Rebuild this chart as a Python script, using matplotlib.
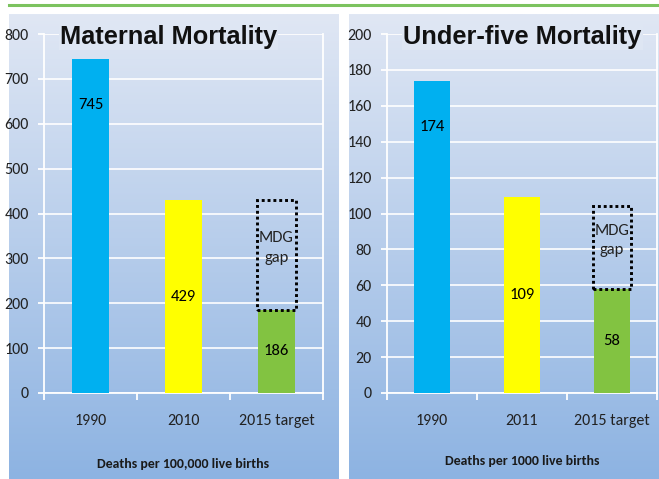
import matplotlib
matplotlib.use("Agg")
import matplotlib.pyplot as plt
import numpy as np
from matplotlib.lines import Line2D
from matplotlib.patches import Rectangle

# ---------------- data ----------------
mat_title = "Maternal Mortality"
mat_cats = ["1990", "2010", "2015 target"]
mat_vals = [745, 429, 186]
mat_gap_top = 429
mat_ymax = 800
mat_step = 100
mat_xlabel = "Deaths per 100,000 live births"

u5_title = "Under-five Mortality"
u5_cats = ["1990", "2011", "2015 target"]
u5_vals = [174, 109, 58]
u5_gap_top = 104
u5_ymax = 200
u5_step = 20
u5_xlabel = "Deaths per 1000 live births"

bar_colors = ["#00b0f0", "#ffff00", "#82c341"]

BODY = ["Carlito", "DejaVu Sans"]
TITLE = ["Liberation Sans", "DejaVu Sans"]
W, H = 659, 479


def fig_rect(x0, y0, x1, y1):
    # pixel box (top-left origin) -> figure fraction rect
    return [x0 / W, 1 - y1 / H, (x1 - x0) / W, (y1 - y0) / H]


def panel_bg(fig, rect):
    ax = fig.add_axes(rect, zorder=0)
    top = np.array([0xe0, 0xe7, 0xf4]) / 255
    bot = np.array([0x8d, 0xb3, 0xe2]) / 255
    t = np.linspace(0, 1, 256)[:, None]
    grad = (top[None, :] * (1 - t) + bot[None, :] * t)[:, None, :]
    ax.imshow(grad, aspect="auto", extent=[0, 1, 0, 1])
    ax.set_axis_off()


def draw_panel(fig, rect, title, title_xy, cats, vals, gap_top, ymax, step, xlabel, xlabel_y):
    ax = fig.add_axes(rect, zorder=2)
    ax.set_facecolor("none")
    x = np.arange(len(cats))
    ax.bar(x, vals, width=0.4, color=bar_colors, zorder=3)

    ax.set_xlim(-0.5, len(cats) - 0.5)
    ax.set_ylim(0, ymax)
    ax.set_yticks(np.arange(0, ymax + 1, step))
    ax.grid(axis="y", color="white", linewidth=1.2, zorder=1)
    for s in ["left", "bottom", "right"]:
        ax.spines[s].set_color("white")
        ax.spines[s].set_linewidth(1.3)
    ax.spines["top"].set_visible(False)

    ax.set_xticks(x)
    ax.set_xticklabels(cats)
    ax.set_xticks(np.arange(-0.5, len(cats), 1.0), minor=True)
    ax.tick_params(axis="x", which="major", length=0, pad=15)
    ax.tick_params(axis="x", which="minor", length=5, color="white", width=1.3)
    ax.tick_params(axis="y", length=4, color="white", width=1.3, pad=7)
    for lab in ax.get_xticklabels() + ax.get_yticklabels():
        lab.set_fontfamily(BODY)
        lab.set_fontsize(11.5)
        lab.set_color("#222222")

    # value labels
    for i, v in enumerate(vals):
        ypos = v - 0.13 * ymax if i == 0 else v / 2
        ax.text(i, ypos, str(v), ha="center", va="center", fontsize=12,
                family=BODY, color="black", zorder=4)

    # MDG gap box
    lo = vals[-1]
    ax.add_patch(Rectangle((x[-1] - 0.21, lo), 0.42, gap_top - lo, fill=False,
                           edgecolor="black", linestyle=(0, (1, 1)), linewidth=2.1,
                           zorder=5, clip_on=False))
    ax.text(x[-1], (lo + gap_top) / 2 + 0.02 * ymax, "MDG\ngap", ha="center", va="center",
            fontsize=12, family=BODY, linespacing=1.5, color="#222222", zorder=5)

    fig.text(title_xy[0] / W, 1 - title_xy[1] / H, title, ha="left", va="baseline",
             fontsize=18.3, fontweight="bold", family=TITLE, color="#111111",
             zorder=6, bbox=dict(facecolor="#dee6f3", edgecolor="none", pad=1))
    fig.text(rect[0] + rect[2] / 2, 1 - xlabel_y / H, xlabel, ha="center", va="center",
             fontsize=10, fontweight="bold", family=BODY, color="#1a1a1a", zorder=6)
    return ax


fig = plt.figure(figsize=(W / 100, H / 100), dpi=100)
fig.patch.set_facecolor("white")

panel_bg(fig, fig_rect(9, 14, 339, 479))
panel_bg(fig, fig_rect(349, 14, 659, 479))

fig.add_artist(Line2D([9 / W, 1], [1 - 4.5 / H, 1 - 4.5 / H], color="#7cc35f",
                      linewidth=2.2, transform=fig.transFigure))

draw_panel(fig, fig_rect(44, 34, 323, 393), mat_title, (60, 44), mat_cats, mat_vals,
           mat_gap_top, mat_ymax, mat_step, mat_xlabel, 464)
draw_panel(fig, fig_rect(387, 34, 657, 393), u5_title, (403, 44), u5_cats, u5_vals,
           u5_gap_top, u5_ymax, u5_step, u5_xlabel, 461)

fig.savefig("out.png", dpi=100)
